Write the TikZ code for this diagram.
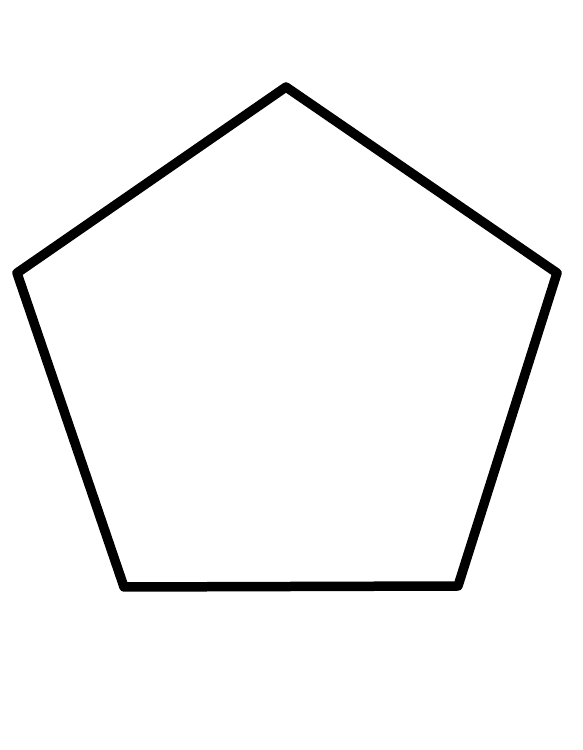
\documentclass[tikz,border=0pt]{standalone}
\begin{document}
\begin{tikzpicture}[x=1pt,y=1pt,
  pentaline/.style={draw=black, line width=9.5pt, line join=round}]
\useasboundingbox (0,0) rectangle (583,750);
\fill[white] (0,0) rectangle (583,750);
\coordinate (top) at (286,663);
\coordinate (right) at (557,477);
\coordinate (br) at (458,164);
\coordinate (bl) at (124,163);
\coordinate (left) at (17,477);
\draw[pentaline] (top) -- (right) -- (br) -- (bl) -- (left) -- cycle;
\end{tikzpicture}
\end{document}
